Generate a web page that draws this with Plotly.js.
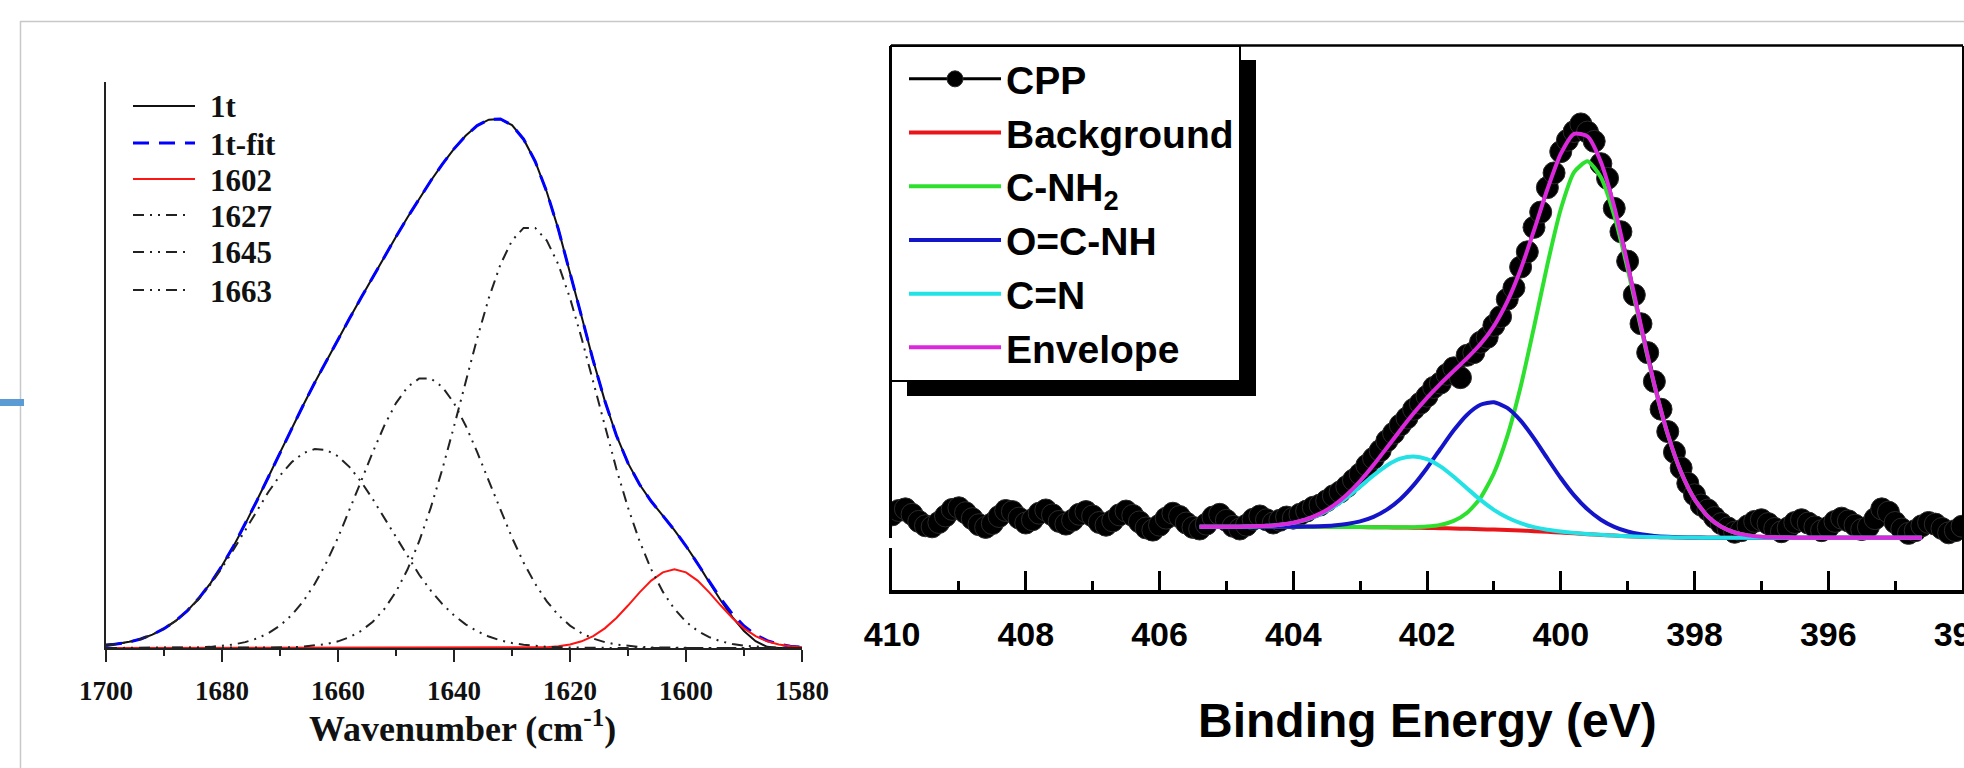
<!DOCTYPE html>
<html><head><meta charset="utf-8">
<script src="https://cdn.plot.ly/plotly-3.0.1.min.js"></script>
<style>html,body{margin:0;padding:0;overflow:hidden;background:#fff;width:1964px;height:768px}#chart{width:2040px;height:768px}</style>
</head><body><div id="chart"></div>
<script>
// ---------- Left chart: FTIR amide I band fit ----------
const wavenumber = [1700,1698,1696,1694,1692,1690,1688,1686,1684,1682,
 1680,1678,1676,1674,1672,1670,1668,1666,1664,1662,
 1660,1658,1656,1654,1652,1650,1648,1646,1644,1642,
 1640,1638,1636,1634,1632,1630,1628,1626,1624,1622,
 1620,1618,1616,1614,1612,1610,1608,1606,1604,1602,
 1600,1598,1596,1594,1592,1590,1588,1586,1584,1582,1580];
const ir1t = [0.0060,0.0075,0.0110,0.0159,0.0237,0.0341,0.0479,0.0657,0.0877,0.1142,
 0.1452,0.1802,0.2188,0.2597,0.3021,0.3451,0.3875,0.4289,0.4691,0.5077,
 0.5456,0.5825,0.6191,0.6554,0.6913,0.7267,0.7610,0.7941,0.8256,0.8550,
 0.8819,0.9050,0.9230,0.9335,0.9346,0.9238,0.8990,0.8596,0.8057,0.7396,
 0.6646,0.5857,0.5079,0.4367,0.3755,0.3266,0.2888,0.2592,0.2338,0.2083,
 0.1802,0.1495,0.1160,0.0840,0.0545,0.0300,0.0120,0.0020,0,0,0];
const ir1tFit = [0.0042,0.0067,0.0105,0.0159,0.0237,0.0341,0.0479,0.0657,0.0877,0.1142,
 0.1452,0.1802,0.2188,0.2597,0.3021,0.3451,0.3875,0.4289,0.4691,0.5077,
 0.5456,0.5825,0.6191,0.6554,0.6913,0.7267,0.7610,0.7941,0.8256,0.8550,
 0.8819,0.9050,0.9230,0.9335,0.9346,0.9238,0.8990,0.8596,0.8057,0.7396,
 0.6646,0.5857,0.5079,0.4367,0.3755,0.3266,0.2888,0.2592,0.2338,0.2083,
 0.1802,0.1495,0.1174,0.0868,0.0600,0.0388,0.0233,0.0130,0.0068,0.0032,0.0015];
const band1602 = [0,0,0,0,0,0,0,0,0,0,
 0,0,0,0,0,0,0,0,0,0,
 0,0,0,0,0,0,0,0,0,0,
 0,0,0,0,0,0.0001,0.0002,0.0005,0.0013,0.0029,
 0.0061,0.0118,0.0210,0.0347,0.0530,0.0750,0.0982,0.1191,0.1337,0.1390,
 0.1337,0.1191,0.0982,0.0750,0.0530,0.0347,0.0210,0.0118,0.0061,0.0029,0.0013];
const band1627 = [0,0,0,0,0,0,0,0,0,0,
 0,0,0.0001,0.0002,0.0003,0.0007,0.0012,0.0023,0.0041,0.0070,
 0.0118,0.0192,0.0303,0.0464,0.0690,0.0995,0.1390,0.1886,0.2480,0.3163,
 0.3915,0.4700,0.5474,0.6182,0.6774,0.7199,0.7422,0.7422,0.7199,0.6774,
 0.6182,0.5474,0.4700,0.3915,0.3163,0.2480,0.1886,0.1390,0.0995,0.0690,
 0.0464,0.0303,0.0192,0.0118,0.0070,0.0041,0.0023,0.0012,0.0007,0.0003,0.0002];
const band1645 = [0,0,0,0,0.0001,0.0001,0.0003,0.0006,0.0011,0.0020,
 0.0036,0.0062,0.0104,0.0167,0.0261,0.0396,0.0581,0.0824,0.1134,0.1510,
 0.1950,0.2437,0.2951,0.3461,0.3932,0.4327,0.4612,0.4761,0.4761,0.4612,
 0.4327,0.3932,0.3461,0.2951,0.2437,0.1950,0.1510,0.1134,0.0824,0.0581,
 0.0396,0.0261,0.0167,0.0104,0.0062,0.0036,0.0020,0.0011,0.0006,0.0003,
 0.0001,0.0001,0,0,0,0,0,0,0,0,0];
const band1663 = [0.0042,0.0067,0.0105,0.0159,0.0236,0.0340,0.0476,0.0651,0.0866,0.1122,
 0.1416,0.1740,0.2083,0.2428,0.2757,0.3048,0.3282,0.3442,0.3516,0.3497,
 0.3388,0.3196,0.2937,0.2629,0.2291,0.1945,0.1608,0.1294,0.1015,0.0775,
 0.0577,0.0418,0.0295,0.0202,0.0135,0.0088,0.0056,0.0035,0.0021,0.0012,
 0.0007,0.0004,0.0002,0.0001,0,0,0,0,0,0,
 0,0,0,0,0,0,0,0,0,0,0];
const wnTicks = [1700,1680,1660,1640,1620,1600,1580];
const wnTickText = ['1700','1680','1660','1640','1620','1600','1580'];
const irSeriesNames = ['1t','1t-fit','1602','1627','1645','1663'];

// ---------- Right chart: XPS N 1s ----------
const cppEnergy = [410.0,409.9,409.8,409.7,409.6,409.5,409.4,409.3,409.2,409.1,
 409.0,408.9,408.8,408.7,408.6,408.5,408.4,408.3,408.2,408.1,
 408.0,407.9,407.8,407.7,407.6,407.5,407.4,407.3,407.2,407.1,
 407.0,406.9,406.8,406.7,406.6,406.5,406.4,406.3,406.2,406.1,
 406.0,405.9,405.8,405.7,405.6,405.5,405.4,405.3,405.2,405.1,
 405.0,404.9,404.8,404.7,404.6,404.5,404.4,404.3,404.2,404.1,
 404.0,403.9,403.8,403.7,403.6,403.5,403.4,403.3,403.2,403.1,
 403.0,402.9,402.8,402.7,402.6,402.5,402.4,402.3,402.2,402.1,
 402.0,401.9,401.8,401.7,401.6,401.5,401.4,401.3,401.2,401.1,
 401.0,400.9,400.8,400.7,400.6,400.5,400.4,400.3,400.2,400.1,
 400.0,399.9,399.8,399.7,399.6,399.5,399.4,399.3,399.2,399.1,
 399.0,398.9,398.8,398.7,398.6,398.5,398.4,398.3,398.2,398.1,
 398.0,397.9,397.8,397.7,397.6,397.5,397.4,397.3,397.2,397.1,
 397.0,396.9,396.8,396.7,396.6,396.5,396.4,396.3,396.2,396.1,
 396.0,395.9,395.8,395.7,395.6,395.5,395.4,395.3,395.2,395.1,
 395.0,394.9,394.8,394.7,394.6,394.5,394.4,394.3,394.2,394.1,394.0];
const cppCounts = [13.8,14.6,14.9,13.9,12.6,11.8,11.6,12.4,13.6,14.8,
 15.1,14.2,13.1,12.0,11.5,12.2,13.5,14.6,14.4,13.2,
 12.3,12.9,14.1,14.7,13.8,12.6,12.1,12.8,13.9,14.4,
 13.6,12.4,11.9,12.7,13.8,14.5,13.7,12.5,11.4,11.0,
 11.9,13.2,14.1,13.5,12.3,11.5,11.2,12.1,13.4,13.9,
 12.8,11.7,11.2,11.9,13.0,13.6,12.9,12.3,12.8,13.4,
 13.2,13.9,14.5,15.2,15.6,16.4,17.3,18.0,19.0,20.2,
 21.3,22.9,24.2,25.6,27.4,28.8,30.3,31.6,33.2,34.3,
 35.6,37.2,38.0,39.6,40.8,39.0,43.1,43.6,45.5,46.4,
 48.6,50.2,53.4,55.5,59.3,62.1,66.6,69.4,73.9,76.6,
 80.5,82.6,84.2,85.6,84.1,82.4,78.3,75.6,70.1,65.8,
 60.4,54.2,48.9,43.6,38.3,33.2,29.1,25.3,22.4,19.6,
 17.5,15.6,14.7,13.3,12.2,11.4,10.6,10.9,11.8,12.6,
 12.9,12.2,11.3,10.7,11.4,12.4,12.9,12.3,11.6,10.9,
 11.5,12.6,13.2,12.7,11.9,11.1,11.6,13.1,14.9,14.3,
 12.4,11.2,10.4,10.9,11.8,12.4,12.1,11.3,10.5,10.9,11.7];
const fitEnergy = [405.4,405.2,405.0,404.8,404.6,404.4,404.2,404.0,403.8,403.6,
 403.4,403.2,403.0,402.8,402.6,402.4,402.2,402.0,401.8,401.6,
 401.4,401.2,401.0,400.8,400.6,400.4,400.2,400.0,399.8,399.6,
 399.4,399.2,399.0,398.8,398.6,398.4,398.2,398.0,397.8,397.6,
 397.4,397.2,397.0,396.8,396.6,396.4,396.2,396.0,395.8,395.6,
 395.4,395.2,395.0,394.8,394.6];
const background = [11.6,11.6,11.6,11.6,11.6,11.6,11.6,11.6,11.6,11.6,
 11.59,11.58,11.56,11.53,11.51,11.48,11.44,11.40,11.35,11.29,
 11.23,11.16,11.09,11.01,10.92,10.81,10.69,10.56,10.41,10.26,
 10.12,9.99,9.88,9.79,9.72,9.67,9.64,9.62,9.61,9.60,
 9.6,9.6,9.6,9.6,9.6,9.6,9.6,9.6,9.6,9.6,
 9.6,9.6,9.6,9.6,9.6];
const cNH2 = [11.6,11.6,11.6,11.6,11.6,11.6,11.6,11.6,11.6,11.6,
 11.59,11.58,11.56,11.54,11.52,11.51,11.53,11.65,11.96,12.69,
 14.19,16.92,21.45,28.22,37.34,48.27,59.76,69.92,76.74,78.75,
 75.81,68.79,58.99,48.06,37.55,28.56,21.60,16.68,13.50,11.60,
 10.56,10.03,9.78,9.67,9.63,9.6,9.6,9.6,9.6,9.6,
 9.6,9.6,9.6,9.6,9.6];
const ocNH = [11.6,11.6,11.6,11.6,11.6,11.6,11.61,11.62,11.65,11.72,
 11.85,12.12,12.60,13.43,14.76,16.68,19.26,22.41,25.90,29.33,
 32.20,34.02,34.47,33.44,31.10,27.84,24.16,20.56,17.37,14.81,
 12.91,11.59,10.74,10.23,9.93,9.76,9.68,9.64,9.61,9.60,
 9.6,9.6,9.6,9.6,9.6,9.6,9.6,9.6,9.6,9.6,
 9.6,9.6,9.6,9.6,9.6];
const cN = [11.6,11.6,11.61,11.63,11.68,11.78,11.97,12.33,12.95,13.90,
 15.23,16.97,18.98,21.04,22.87,24.12,24.54,24.04,22.71,20.80,
 18.65,16.55,14.73,13.31,12.27,11.54,11.06,10.74,10.49,10.29,
 10.13,9.99,9.88,9.79,9.72,9.67,9.64,9.62,9.61,9.60,
 9.6,9.6,9.6,9.6,9.6,9.6,9.6,9.6,9.6,9.6,
 9.6,9.6,9.6,9.6,9.6];
const envelope = [11.6,11.6,11.61,11.63,11.69,11.78,11.98,12.35,13.00,14.02,
 15.49,17.51,20.02,22.95,26.13,29.35,32.45,35.30,37.87,40.24,
 42.58,45.17,48.47,52.95,58.87,66.03,73.60,80.10,83.78,83.33,
 78.61,70.39,59.85,48.50,37.76,28.65,21.64,16.70,13.50,11.60,
 10.56,10.03,9.78,9.67,9.63,9.6,9.6,9.6,9.6,9.6,
 9.6,9.6,9.6,9.6,9.6];
const beTicks = [410,408,406,404,402,400,398,396,394];
const beTickText = ['410','408','406','404','402','400','398','396','394'];

// ---------- layout helpers (pixel -> paper) ----------
const W = 2040, H = 768;
const px = v => v / W;
const py = v => 1 - v / H;
const serif = 'Liberation Serif, Times New Roman, serif';
const sans = 'Liberation Sans, Arial, sans-serif';
const compDash = '11px,6px,2px,6px,2px,6px';

// line styles for the left chart (shared by traces and the legend keys)
const irStyles = [
  {color: '#111', width: 2},
  {color: '#0000ff', width: 3, dash: '16px,10px'},
  {color: '#ff1414', width: 2},
  {color: '#222', width: 2, dash: compDash},
  {color: '#222', width: 2, dash: compDash},
  {color: '#222', width: 2, dash: compDash}
];
const irSeries = [ir1t, ir1tFit, band1602, band1627, band1645, band1663];

const traces = irSeries.map((ys, i) => ({
  x: wavenumber, y: ys, name: irSeriesNames[i], mode: 'lines', line: irStyles[i], showlegend: false
})).concat([
  {x: cppEnergy, y: cppCounts, name: 'CPP', mode: 'lines+markers', xaxis: 'x2', yaxis: 'y2', legend: 'legend2',
   line: {color: '#000', width: 3}, marker: {size: 22, color: '#000', line: {color: '#2a2a2a', width: 1}}},
  {x: fitEnergy, y: background, name: 'Background', mode: 'lines', xaxis: 'x2', yaxis: 'y2', legend: 'legend2', line: {color: '#e8161b', width: 4, shape: 'spline', smoothing: 0.6}},
  {x: fitEnergy, y: cNH2, name: 'C-NH<sub>2</sub>', mode: 'lines', xaxis: 'x2', yaxis: 'y2', legend: 'legend2', line: {color: '#2ee02e', width: 4, shape: 'spline', smoothing: 0.6}},
  {x: fitEnergy, y: ocNH, name: 'O=C-NH', mode: 'lines', xaxis: 'x2', yaxis: 'y2', legend: 'legend2', line: {color: '#1414c8', width: 4, shape: 'spline', smoothing: 0.6}},
  {x: fitEnergy, y: cN, name: 'C=N', mode: 'lines', xaxis: 'x2', yaxis: 'y2', legend: 'legend2', line: {color: '#22e2e6', width: 4, shape: 'spline', smoothing: 0.6}},
  {x: fitEnergy, y: envelope, name: 'Envelope', mode: 'lines', xaxis: 'x2', yaxis: 'y2', legend: 'legend2', line: {color: '#dc28dc', width: 4, shape: 'spline', smoothing: 0.6}}
]);

// left legend drawn as keys + labels (tight row spacing as in the original)
const irLegendRows = [106, 143, 179, 215, 252, 290];
const irLegendShapes = irStyles.map((st, i) => ({
  type: 'line', xref: 'paper', yref: 'paper', x0: px(133), x1: px(i >= 3 ? 190 : 195),
  y0: py(irLegendRows[i]), y1: py(irLegendRows[i]), line: st
}));
const irLegendLabels = irSeriesNames.map((nm, i) => ({
  text: nm, xref: 'paper', yref: 'paper', x: px(208), y: py(irLegendRows[i] + 1),
  xanchor: 'left', yanchor: 'middle', showarrow: false,
  font: {family: serif, size: 31, color: '#111', weight: 'bold'}
}));

const baseShapes = [
  // light page frame
  {type: 'line', xref: 'paper', yref: 'paper', x0: px(20), x1: 1, y0: py(21.5), y1: py(21.5), line: {color: '#c8c8c8', width: 1.5}},
  {type: 'line', xref: 'paper', yref: 'paper', x0: px(20.5), x1: px(20.5), y0: py(21), y1: 0, line: {color: '#c8c8c8', width: 1.5}},
  {type: 'rect', xref: 'paper', yref: 'paper', x0: 0, x1: px(24), y0: py(406), y1: py(399), fillcolor: '#5b9bd5', line: {width: 0}},
  // right plot top frame
  {type: 'line', xref: 'paper', yref: 'paper', x0: px(891), x1: px(1963), y0: py(45.5), y1: py(45.5), line: {color: '#000', width: 2.5}, layer: 'above'},
  // small break in left frame
  {type: 'rect', xref: 'paper', yref: 'paper', x0: px(888), x1: px(896), y0: py(548), y1: py(538), fillcolor: '#fff', line: {width: 0}, layer: 'above'}
].concat(irLegendShapes);
function shadowShape(l, t, r, b) {
  return {type: 'rect', xref: 'paper', yref: 'paper', x0: px(l + 16), x1: px(r + 16), y0: py(b + 15), y1: py(t + 14),
          fillcolor: '#000', line: {width: 0}, layer: 'above'};
}

const layout = {
  width: W, height: H,
  margin: {l: 0, r: 0, t: 0, b: 0, pad: 0},
  paper_bgcolor: '#fff', plot_bgcolor: 'rgba(0,0,0,0)',
  showlegend: true,
  xaxis: {
    domain: [px(106), px(802)], range: [1700, 1580], anchor: 'y',
    tickmode: 'array', tickvals: wnTicks, ticktext: wnTickText,
    ticks: 'outside', ticklen: 12, tickwidth: 2, tickcolor: '#222',
    minor: {tickvals: [1690,1670,1650,1630,1610,1590], ticks: 'outside', ticklen: 6, tickwidth: 2, tickcolor: '#222'},
    showline: true, linecolor: '#222', linewidth: 2, showgrid: false, zeroline: false,
    tickfont: {family: serif, size: 27, color: '#111', weight: 'bold'}, ticklabelstandoff: 6,
    automargin: false
  },
  yaxis: {
    domain: [py(648), py(82)], range: [0, 1], anchor: 'x',
    showline: true, linecolor: '#222', linewidth: 2, showticklabels: false, ticks: '',
    showgrid: false, zeroline: false, automargin: false
  },
  xaxis2: {
    domain: [px(892), px(1962)], range: [410, 394], anchor: 'y2',
    tickmode: 'array', tickvals: beTicks, ticktext: beTickText,
    ticks: 'inside', ticklen: 19, tickwidth: 3, tickcolor: '#000',
    minor: {tickvals: [409,407,405,403,401,399,397,395], ticks: 'inside', ticklen: 9, tickwidth: 3, tickcolor: '#000'},
    showline: true, linecolor: '#000', linewidth: 4, showgrid: false, zeroline: false,
    tickfont: {family: sans, size: 34, color: '#000', weight: 'bold'}, ticklabelstandoff: 11,
    automargin: false
  },
  yaxis2: {
    domain: [py(590), py(45.5)], range: [0, 100], anchor: 'x2',
    showline: true, mirror: true, linecolor: '#000', linewidth: 3, showticklabels: false, ticks: '',
    showgrid: false, zeroline: false, automargin: false
  },
  legend2: {
    x: px(890), y: py(45), xanchor: 'left', yanchor: 'top',
    bgcolor: '#fff', bordercolor: '#000', borderwidth: 2, itemwidth: 92, indentation: 12,
    font: {family: sans, size: 39, color: '#000', weight: 'bold'}, tracegroupgap: 0
  },
  annotations: [
    {text: 'Wavenumber (cm<sup>-1</sup>)', xref: 'paper', yref: 'paper', x: px(462), y: py(726),
     xanchor: 'center', yanchor: 'middle', showarrow: false,
     font: {family: serif, size: 36, color: '#111', weight: 'bold'}},
    {text: 'Binding Energy (eV)', xref: 'paper', yref: 'paper', x: px(1427), y: py(720),
     xanchor: 'center', yanchor: 'middle', showarrow: false,
     font: {family: sans, size: 48, color: '#000', weight: 'bold'}}
  ].concat(irLegendLabels),
  shapes: baseShapes.concat([shadowShape(890, 45, 1251, 372)])
};

Plotly.newPlot('chart', traces, layout, {displayModeBar: false, staticPlot: true}).then(function (gd) {
  const bg = document.querySelector('g.legend2 rect.bg');
  if (!bg) return;
  const r = bg.getBoundingClientRect();
  if (!r || r.width < 10) return;
  return Plotly.relayout(gd, {shapes: baseShapes.concat([shadowShape(r.left, r.top, r.right, r.bottom)])});
});
</script></body></html>
